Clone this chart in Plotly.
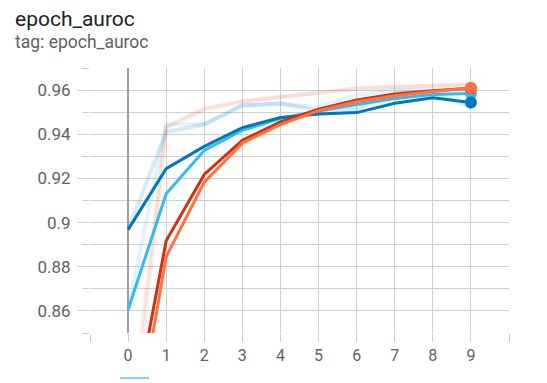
import plotly.graph_objects as go

epochs = [0, 1, 2, 3, 4, 5, 6, 7, 8, 9]

# smoothed series
dark_blue_smooth = [0.8968, 0.9244, 0.9345, 0.9430, 0.9476, 0.9492, 0.9498, 0.9540, 0.9565, 0.9544]
light_blue_smooth = [0.8605, 0.9130, 0.9327, 0.9418, 0.9471, 0.9505, 0.9535, 0.9562, 0.9580, 0.9585]
dark_red_smooth = [0.800, 0.8918, 0.9218, 0.9373, 0.9456, 0.9514, 0.9555, 0.9582, 0.9597, 0.9608]
orange_smooth = [0.785, 0.8845, 0.9183, 0.9360, 0.9444, 0.9507, 0.9547, 0.9574, 0.9594, 0.9610]

# raw series
dark_blue_raw = [0.8968, 0.9410, 0.9444, 0.9530, 0.9540, 0.9505, 0.9515, 0.9585, 0.9595, 0.9522]
light_blue_raw = [0.8605, 0.9444, 0.9446, 0.9532, 0.9538, 0.9524, 0.9577, 0.9600, 0.9600, 0.9590]
dark_red_raw = [0.800, 0.9435, 0.9517, 0.9550, 0.9570, 0.9590, 0.9608, 0.9615, 0.9618, 0.9623]
orange_raw = [0.785, 0.9427, 0.9510, 0.9546, 0.9568, 0.9588, 0.9605, 0.9613, 0.9620, 0.9626]

x_tick_vals = [-1, 0, 1, 2, 3, 4, 5, 6, 7, 8, 9, 10]
x_tick_text = ["", "0", "1", "2", "3", "4", "5", "6", "7", "8", "9", ""]
y_tick_vals = [0.86, 0.88, 0.90, 0.92, 0.94, 0.96]
y_tick_text = ["0.86", "0.88", "0.9", "0.92", "0.94", "0.96"]
y_minor_vals = [0.85, 0.87, 0.89, 0.91, 0.93, 0.95, 0.97]

C_DB = "#0077bb"
C_LB = "#33bbee"
C_DR = "#cc3311"
C_OR = "#ff7043"

fig = go.Figure()

for ys, c, op in [(light_blue_raw, C_LB, 0.15), (dark_blue_raw, C_DB, 0.15),
                  (dark_red_raw, C_DR, 0.09), (orange_raw, C_OR, 0.10)]:
    fig.add_trace(go.Scatter(x=epochs, y=ys, mode="lines", line=dict(color=c, width=4),
                             opacity=op, showlegend=False, hoverinfo="skip"))

for ys, c in [(light_blue_smooth, C_LB), (dark_blue_smooth, C_DB), (dark_red_smooth, C_DR), (orange_smooth, C_OR)]:
    fig.add_trace(go.Scatter(x=epochs, y=ys, mode="lines", line=dict(color=c, width=3),
                             showlegend=False))

for ys, c in [(light_blue_smooth, C_LB), (dark_blue_smooth, C_DB), (dark_red_smooth, C_DR), (orange_smooth, C_OR)]:
    fig.add_trace(go.Scatter(x=epochs[-1:], y=ys[-1:], mode="markers",
                             marker=dict(color=c, size=12, line=dict(width=0)),
                             showlegend=False))

grid = "#cfcfcf"
fig.update_layout(
    width=547, height=383,
    margin=dict(l=90, r=38, t=68, b=50),
    paper_bgcolor="white", plot_bgcolor="white",
    font=dict(family="Roboto", color="#616161", size=16),
    xaxis=dict(range=[-1, 10], tickmode="array", tickvals=x_tick_vals, ticktext=x_tick_text,
               showgrid=True, gridcolor=grid, gridwidth=1,
               zeroline=True, zerolinecolor="#9e9e9e", zerolinewidth=2,
               ticks="outside", ticklen=8, tickcolor=grid, showline=False,
               tickfont=dict(size=16, color="#616161")),
    yaxis=dict(range=[0.85, 0.97], tickmode="array", tickvals=y_tick_vals, ticktext=y_tick_text,
               showgrid=True, gridcolor=grid, gridwidth=1, zeroline=False,
               ticks="outside", ticklen=11, tickcolor=grid, showline=False,
               ticklabelstandoff=4,
               tickfont=dict(size=17, color="#616161"),
               minor=dict(tickmode="array", tickvals=y_minor_vals, ticks="outside", ticklen=7,
                          tickcolor=grid, showgrid=True, gridcolor=grid, gridwidth=1)),
    annotations=[
        dict(text="epoch_auroc", xref="paper", yref="paper", x=-0.183, y=1.237,
             xanchor="left", yanchor="top", showarrow=False,
             font=dict(family="Roboto", size=21, color="#212121")),
        dict(text="tag: epoch_auroc", xref="paper", yref="paper", x=-0.183, y=1.145,
             xanchor="left", yanchor="top", showarrow=False,
             font=dict(family="Roboto", size=17.5, color="#616161")),
    ],
    shapes=[dict(type="line", xref="paper", yref="paper", x0=0.0716, x1=0.1408,
                 y0=-0.170, y1=-0.170, line=dict(color="#90cdf9", width=2))],
)

fig.write_html("out.html")
